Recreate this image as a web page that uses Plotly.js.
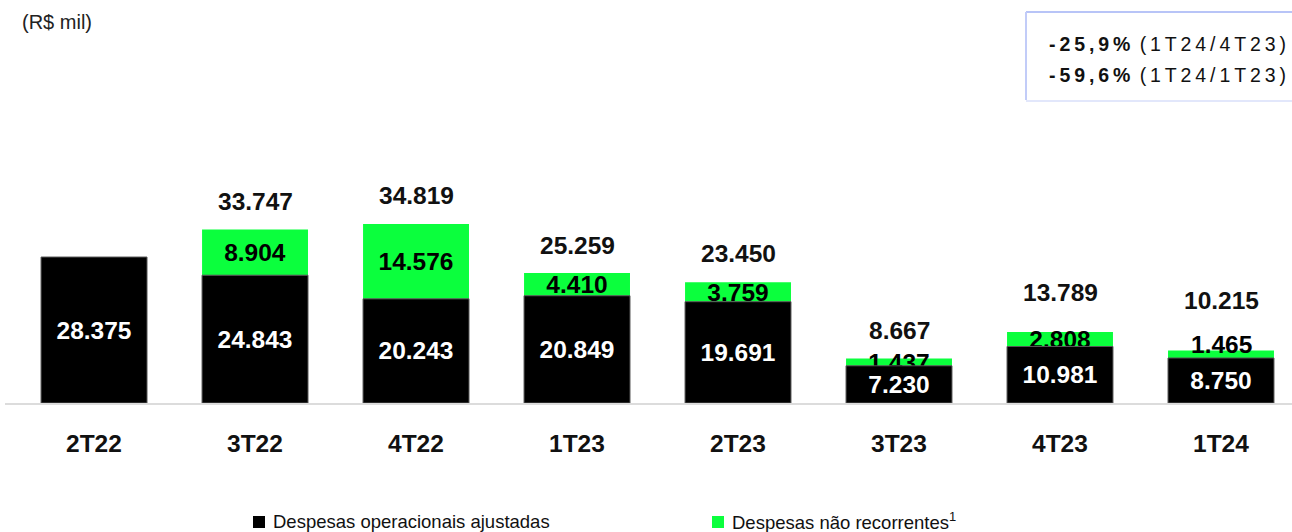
<!DOCTYPE html>
<html>
<head>
<meta charset="utf-8">
<script src="https://cdn.plot.ly/plotly-3.0.1.min.js"></script>
<style>
html,body{margin:0;padding:0;background:#fff;width:1292px;height:532px;overflow:hidden;}
#chart{position:absolute;left:0;top:0;width:1292px;height:532px;}
</style>
</head>
<body>
<div id="chart"></div>
<script>
// ---- data ----
const categories = ['2T22', '3T22', '4T22', '1T23', '2T23', '3T23', '4T23', '1T24'];
const adjusted = [28375, 24843, 20243, 20849, 19691, 7230, 10981, 8750];
const nonRecurring = [0, 8904, 14576, 4410, 3759, 1437, 2808, 1465];
const totals = [null, 33747, 34819, 25259, 23450, 8667, 13789, 10215];
const seriesNames = ['Despesas operacionais ajustadas', 'Despesas não recorrentes<sup>1</sup>'];
const growthLines = [['-25,9%', '(1T24/4T23)'], ['-59,6%', '(1T24/1T23)']];

const fmt = v => v.toLocaleString('de-DE');

// ---- layout helpers (positions only) ----
const W = 1292, H = 532, L = 5, R = 0, T = 0, B = 129;
const fx = px => (px - L) / (W - L - R);
const fy = py => (H - B - py) / (H - B - T);
const totalLift = [28, 28, 28, 28, 29, 28, 40, 50];   // px above bar top for total labels

const FONT = 'Liberation Sans, Arial, Helvetica, sans-serif';
const GREEN = '#0bff3d';
const LBL = 24.5;

// green label for the last bar is drawn as an annotation (placed above its thin segment)
const greenInBar = nonRecurring.map((v, i) => (v && i !== categories.length - 1) ? fmt(v) : '');

const greenTrace = {
  type: 'bar', x: categories, y: nonRecurring, base: adjusted,
  name: seriesNames[1], showlegend: false,
  marker: {color: GREEN, line: {width: 0}},
  text: greenInBar,
  textposition: 'inside', insidetextanchor: 'middle', textangle: 0,
  constraintext: 'none', cliponaxis: false,
  textfont: {family: FONT, size: LBL, color: '#000', weight: 700},
  hoverinfo: 'skip'
};
const blackTrace = {
  type: 'bar', x: categories, y: adjusted,
  name: seriesNames[0], showlegend: false,
  marker: {color: '#000', line: {color: '#555', width: 1}},
  text: adjusted.map(fmt),
  textposition: 'inside', insidetextanchor: 'middle', textangle: 0,
  constraintext: 'none', cliponaxis: false,
  textfont: {family: FONT, size: LBL, color: '#fff', weight: 700},
  hoverinfo: 'skip'
};

const annotations = [];
categories.forEach((c, i) => {
  if (totals[i] != null) {
    annotations.push({x: c, y: totals[i], xref: 'x', yref: 'y', yanchor: 'middle', text: '<b>' + fmt(totals[i]) + '</b>',
      showarrow: false, yshift: totalLift[i], font: {family: FONT, size: LBL, color: '#111'}});
  }
  annotations.push({x: c, y: 0, xref: 'x', yref: 'y', yanchor: 'middle', text: '<b>' + c + '</b>',
    showarrow: false, yshift: -40, font: {family: FONT, size: LBL, color: '#111'}});
});
// last green label
{
  const i = categories.length - 1;
  annotations.push({x: categories[i], y: adjusted[i] + nonRecurring[i], xref: 'x', yref: 'y', yanchor: 'middle',
    text: '<b>' + fmt(nonRecurring[i]) + '</b>', showarrow: false, yshift: 6,
    font: {family: FONT, size: LBL, color: '#000'}});
}
annotations.push({x: fx(20), y: fy(22), xref: 'paper', yref: 'paper', xanchor: 'left', yanchor: 'middle',
  text: '(R$ mil)', showarrow: false, font: {family: FONT, size: 20, color: '#222'}});
const spaced = s => s.split('').join('\u2009');
growthLines.forEach((g, k) => {
  annotations.push({x: fx(1288), y: fy(44 + k * 31), xref: 'paper', yref: 'paper', xanchor: 'right', yanchor: 'middle',
    text: '<b>' + spaced(g[0]) + '</b>\u2009 ' + spaced(g[1]), showarrow: false,
    font: {family: FONT, size: 19.5, color: '#111'}});
});

// custom legend
const legendItems = [{color: '#000', name: seriesNames[0], sq: 253}, {color: GREEN, name: seriesNames[1], sq: 712}];
const shapes = [
  {type: 'line', xref: 'paper', yref: 'paper', x0: fx(1026), x1: fx(1292), y0: fy(12), y1: fy(12), line: {color: '#b8c4f7', width: 2}},
  {type: 'line', xref: 'paper', yref: 'paper', x0: fx(1026), x1: fx(1026), y0: fy(12), y1: fy(100), line: {color: '#c2ccf8', width: 2}},
  {type: 'line', xref: 'paper', yref: 'paper', x0: fx(1026), x1: fx(1292), y0: fy(101), y1: fy(101), line: {color: '#e2e7fb', width: 2}}
];
legendItems.forEach(it => {
  shapes.push({type: 'rect', xref: 'paper', yref: 'paper', x0: fx(it.sq), x1: fx(it.sq + 12), y0: fy(516), y1: fy(528),
    fillcolor: it.color, line: {width: 0}});
  annotations.push({x: fx(it.sq + 18), y: fy(521), xref: 'paper', yref: 'paper', xanchor: 'left', yanchor: 'middle',
    text: it.name, showarrow: false, font: {family: FONT, size: 18.5, color: '#111'}});
});

const layout = {
  width: W, height: H,
  margin: {l: L, r: R, t: T, b: B, pad: 0},
  paper_bgcolor: '#fff', plot_bgcolor: '#fff',
  barmode: 'overlay', bargap: 0.342,
  font: {family: FONT},
  xaxis: {range: [-0.553, 7.441], showticklabels: false, ticks: '', showgrid: false, zeroline: false,
    showline: true, linecolor: '#dcdcdc', linewidth: 2, fixedrange: true},
  yaxis: {range: [0, 78343], visible: false, fixedrange: true},
  showlegend: false,
  annotations: annotations,
  shapes: shapes
};

Plotly.newPlot('chart', [greenTrace, blackTrace], layout, {displayModeBar: false, staticPlot: true});
</script>
</body>
</html>
